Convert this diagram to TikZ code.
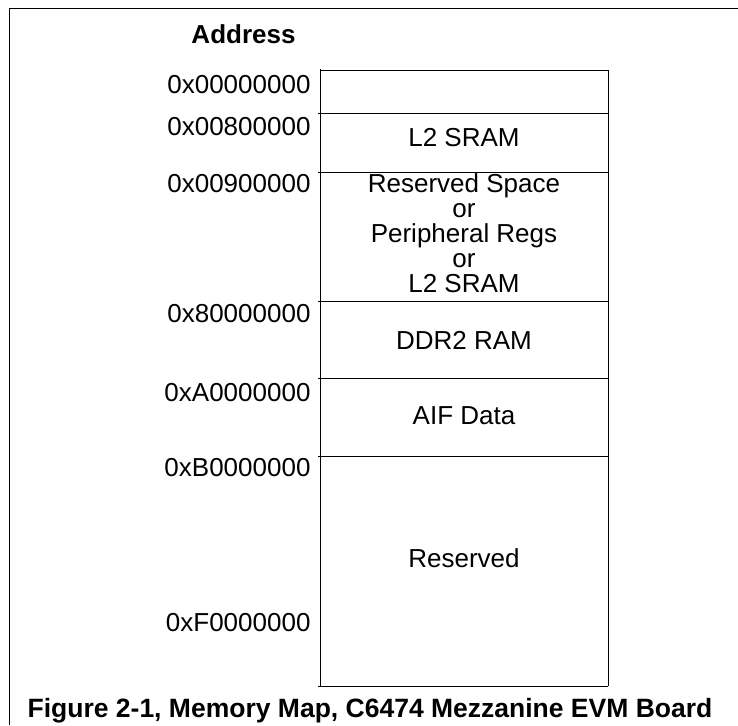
\documentclass[tikz,border=0pt]{standalone}
\usepackage{fontspec}
\setmainfont{Liberation Sans}
\begin{document}
\begin{tikzpicture}[x=1pt,y=-1pt,line width=1pt,
    font=\fontsize{26}{25}\selectfont,
    addr/.style={anchor=base east,inner sep=0pt},
    region/.style={anchor=base,inner sep=0pt}]
    \useasboundingbox (0,0) rectangle (738,725);
    % frame
    \draw (9,725) -- (9,9) -- (738,9);
    % memory blocks
    \draw (320.5,69) -- (320.5,686);
    \draw (608,70) -- (608,686);
    \draw (320.5,70) -- (608,70);
    \foreach \y in {113,172,301,378,456,686}
        \draw (318,\y) -- (608,\y);
    % addresses
    \node[anchor=base,inner sep=0pt,font=\bfseries\fontsize{26}{25}\selectfont] (head) at (243.5,44) {Address};
    \foreach \name/\y/\txt in {a0/93/0x00000000, a1/135/0x00800000, a2/192/0x00900000,
        a3/322/0x80000000, a4/401/0xA0000000, a5/476/0xB0000000, a6/631/0xF0000000}
        \node[addr] (\name) at (311,\y) {\txt};
    % block names
    \node[region] (l2sram) at (464,146) {L2 SRAM};
    \node[align=center,inner sep=0pt] (shared) at (464,233.5) {Reserved Space\\or\\Peripheral Regs\\or\\L2 SRAM};
    \node[region] (ddr) at (464,349) {DDR2 RAM};
    \node[region] (aif) at (464,424) {AIF Data};
    \node[region] (resv) at (464,567) {Reserved};
    \node[anchor=base,inner sep=0pt,font=\bfseries\fontsize{26.5}{30}\selectfont] (caption) at (370,717) {Figure 2-1, Memory Map, C6474 Mezzanine EVM Board};
\end{tikzpicture}
\end{document}
